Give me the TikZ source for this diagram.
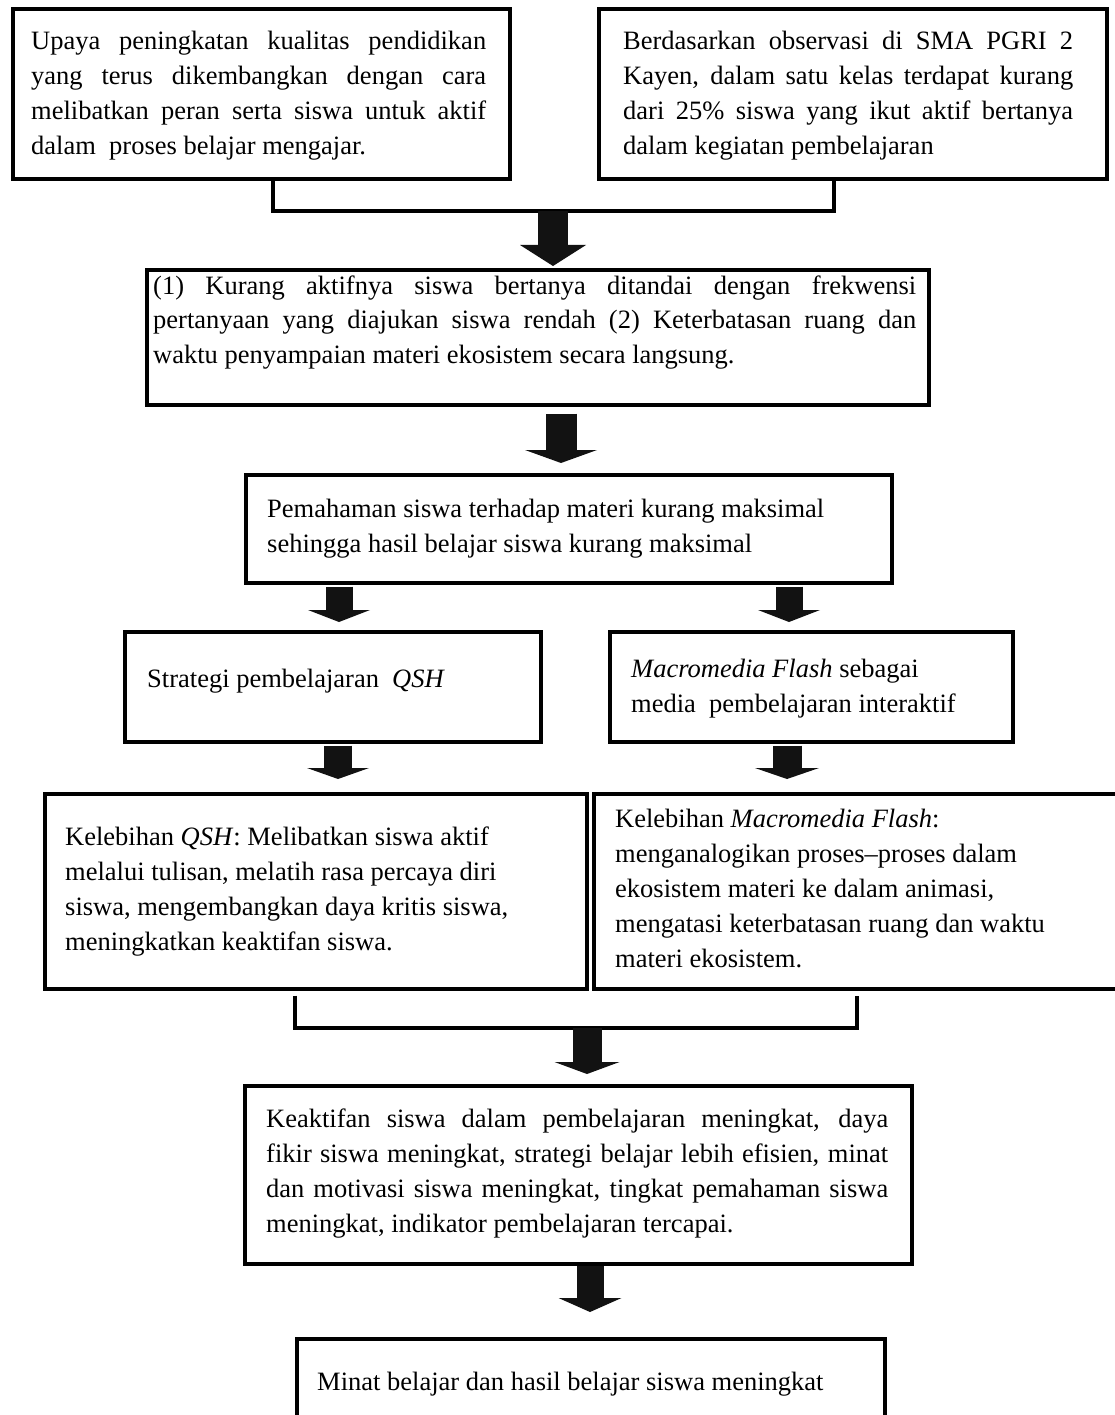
\documentclass[tikz,border=0pt]{standalone}
\usepackage{fontspec}
\setmainfont{Liberation Serif}
\usetikzlibrary{arrows.meta}
\newcommand{\jl}[1]{\makebox[\linewidth][s]{#1}\\}
\begin{document}
\begin{tikzpicture}[x=1pt,y=-1pt,
  box/.style={draw=black, line width=3.6pt, inner sep=0pt, anchor=north west},
  txt/.style={inner sep=0pt, anchor=base west, font=\fontsize{26.5pt}{35pt}\selectfont},
  bracket/.style={draw=black, line width=3.2pt, line join=miter},
  barrow/.style n args={3}{draw=black!93, line width=#1, -{Triangle[width=#2 0, length=#3 0, line width=0pt]}}
]
\useasboundingbox (0,0) rectangle (1115,1415);
\clip (0,0) rectangle (1115,1415);
\fill[white] (0,0) rectangle (1115,1415);

% boxes
\node[box, minimum width=497pt, minimum height=170pt] (b1) at (11,7) {};
\node[box, minimum width=508pt, minimum height=170pt] (b2) at (597,7) {};
\node[box, minimum width=782pt, minimum height=135pt] (b3) at (145,268) {};
\node[box, minimum width=646pt, minimum height=108pt] (b4) at (244,473) {};
\node[box, minimum width=416pt, minimum height=110pt] (b5) at (123,630) {};
\node[box, minimum width=403pt, minimum height=110pt] (b6) at (608,630) {};
\node[box, minimum width=542pt, minimum height=195pt] (b7) at (43,792) {};
\node[box, minimum width=540pt, minimum height=195pt] (b8) at (592,792) {};
\node[box, minimum width=667pt, minimum height=178pt] (b9) at (243,1084) {};
\node[box, minimum width=588pt, minimum height=110pt] (b10) at (295,1337) {};

% texts
\node[txt] (t1) at (31,50) {\parbox[t]{455pt}{\jl{Upaya peningkatan kualitas pendidikan}\jl{yang terus dikembangkan dengan cara}\jl{melibatkan peran serta siswa untuk aktif}dalam\ \ proses belajar mengajar.}};
\node[txt] (t2) at (623,50) {\parbox[t]{450pt}{\jl{Berdasarkan observasi di SMA PGRI 2}\jl{Kayen, dalam satu kelas terdapat kurang}\jl{dari 25\% siswa yang ikut aktif bertanya}dalam kegiatan pembelajaran}};
\node[txt] (t3) at (153,294) {\parbox[t]{763pt}{\jl{(1) Kurang aktifnya siswa bertanya ditandai dengan frekwensi}\jl{pertanyaan yang diajukan siswa rendah (2) Keterbatasan ruang dan}waktu penyampaian materi ekosistem secara langsung.}};
\node[txt] (t4) at (267,517) {\parbox[t]{620pt}{Pemahaman siswa terhadap materi kurang maksimal\\sehingga hasil belajar siswa kurang maksimal}};
\node[txt] (t5) at (147,687) {Strategi pembelajaran\ \ \textit{QSH}};
\node[txt] (t6) at (631,677) {\parbox[t]{390pt}{\textit{Macromedia Flash} sebagai\\media\ \ pembelajaran interaktif}};
\node[txt] (t7) at (65,845) {\parbox[t]{510pt}{Kelebihan \textit{QSH}: Melibatkan siswa aktif\\melalui tulisan, melatih rasa percaya diri\\siswa, mengembangkan daya kritis siswa,\\meningkatkan keaktifan siswa.}};
\node[txt] (t8) at (615,827) {\parbox[t]{490pt}{Kelebihan \textit{Macromedia Flash}:\\menganalogikan proses--proses dalam\\ekosistem materi ke dalam animasi,\\mengatasi keterbatasan ruang dan waktu\\materi ekosistem.}};
\node[txt] (t9) at (266,1127) {\parbox[t]{622pt}{\jl{Keaktifan siswa dalam pembelajaran meningkat, daya}\jl{fikir siswa meningkat, strategi belajar lebih efisien, minat}\jl{dan motivasi siswa meningkat, tingkat pemahaman siswa}meningkat, indikator pembelajaran tercapai.}};
\node[txt] (t10) at (317,1390) {Minat belajar dan hasil belajar siswa meningkat};

% helper coordinates
\coordinate (j1) at (553,211);
\coordinate (k1) at (273,0);
\coordinate (k2) at (834,0);
\coordinate (j2) at (587,1028);
\coordinate (k3) at (295,0);
\coordinate (k4) at (857,0);
\coordinate (x2) at (561,0);
\coordinate (x3) at (339,0);
\coordinate (x4) at (789,0);
\coordinate (x5) at (338,0);
\coordinate (x6) at (787,0);
\coordinate (x8) at (590,0);

% brackets
\draw[bracket] (b1.south -| k1) |- (j1) -| (b2.south -| k2);
\draw[bracket, shorten <=5pt, shorten >=5pt] (b7.south -| k3) |- (j2) -| (b8.south -| k4);

% block arrows
\draw[barrow={30pt}{66pt}{21pt}, shorten >=2pt] (j1) -- (j1 |- b3.north);
\draw[barrow={31pt}{72pt}{13pt}, shorten <=7pt, shorten >=10pt] (b3.south -| x2) -- (b4.north -| x2);
\draw[barrow={27pt}{62pt}{12pt}, shorten <=2pt, shorten >=8pt] (b4.south -| x3) -- (b5.north -| x3);
\draw[barrow={27pt}{62pt}{12pt}, shorten <=2pt, shorten >=8pt] (b4.south -| x4) -- (b6.north -| x4);
\draw[barrow={28pt}{62pt}{11pt}, shorten <=2pt, shorten >=13pt] (b5.south -| x5) -- (b7.north -| x5);
\draw[barrow={29pt}{64pt}{11pt}, shorten <=2pt, shorten >=13pt] (b6.south -| x6) -- (b8.north -| x6);
\draw[barrow={29pt}{65pt}{12pt}, shorten >=10pt] (j2) -- (j2 |- b9.north);
\draw[barrow={27pt}{63pt}{14pt}, shorten >=25pt] (b9.south -| x8) -- (b10.north -| x8);
\end{tikzpicture}
\end{document}
